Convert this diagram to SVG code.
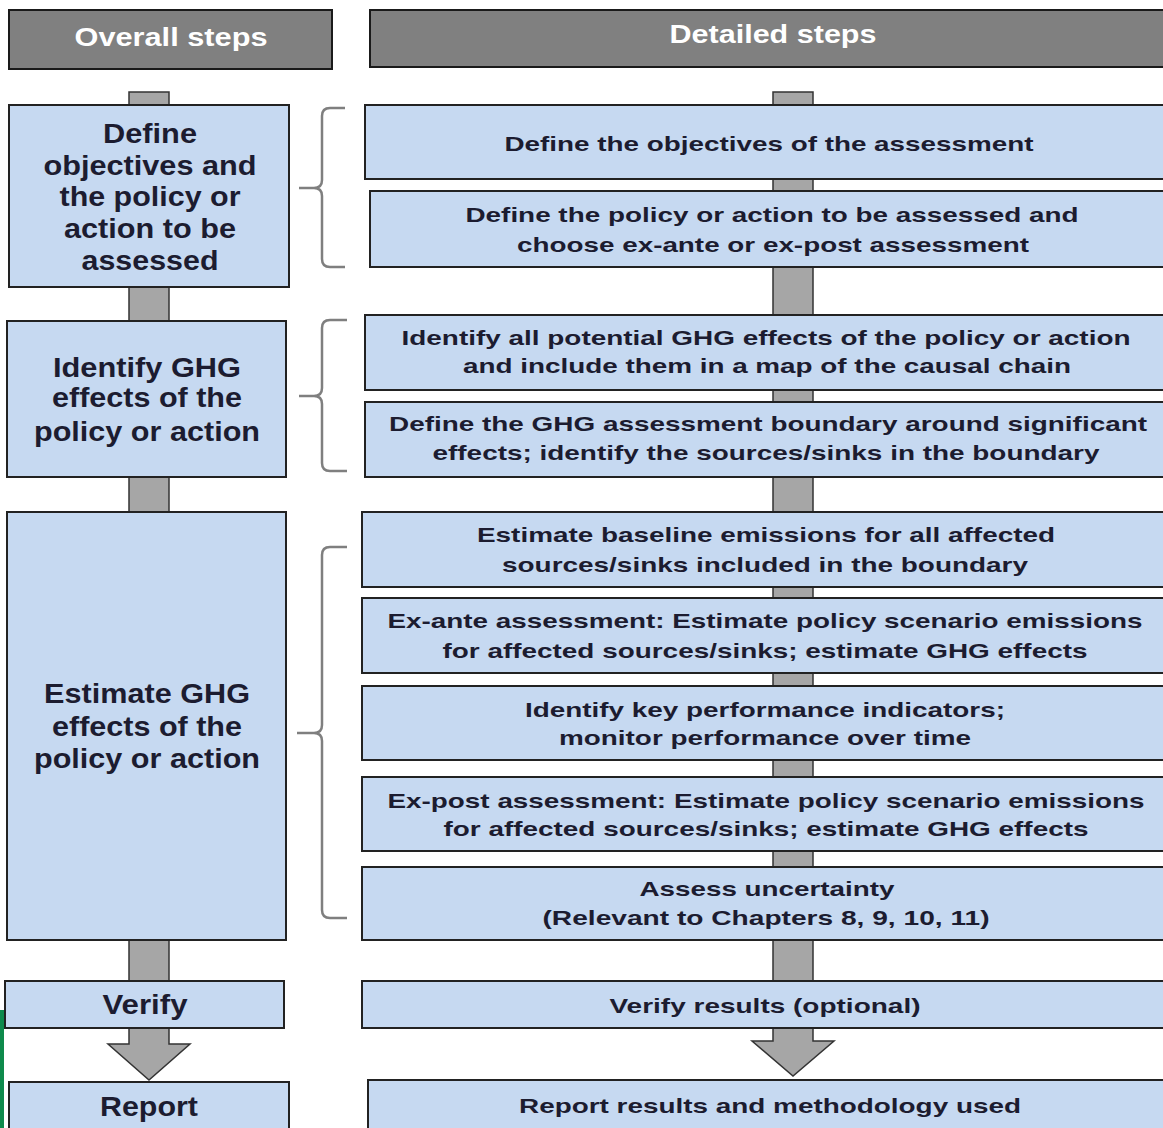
<svg xmlns="http://www.w3.org/2000/svg" width="1163" height="1128" viewBox="0 0 1163 1128">
<style>
.hdr{fill:#808080;stroke:#1a1a1a;stroke-width:2}
.box{fill:#c6d9f1;stroke:#222;stroke-width:2}
.bar{fill:#a6a6a6;stroke:#333;stroke-width:1.5}
.br{fill:none;stroke:#7f7f7f;stroke-width:2.5}
.ht{font-family:"Liberation Sans",Arial,sans-serif;font-weight:bold;font-size:26px;fill:#ffffff;text-anchor:middle}
.lt{font-family:"Liberation Sans",Arial,sans-serif;font-weight:bold;font-size:28px;fill:#1c1c30;text-anchor:middle}
.rt{font-family:"Liberation Sans",Arial,sans-serif;font-weight:bold;font-size:21px;fill:#1c1c30;text-anchor:middle}
</style>
<rect x="0" y="0" width="1163" height="1128" fill="#ffffff"/>
<rect x="0" y="1010" width="4" height="118" fill="#0e8a4c"/>
<g id="connectors">
<rect class="bar" x="129" y="92" width="40" height="890"/>
<rect class="bar" x="773" y="92" width="40" height="890"/>
<polygon class="bar" points="129,1028 169,1028 169,1044 190,1044 149,1080 108,1044 129,1044"/>
<polygon class="bar" points="773,1028 813,1028 813,1041 834,1041 793,1076 752,1041 773,1041"/>
<path class="br" d="M345,108 H330 Q322,108 322,116 V180 Q322,188 314,188 H299 M314,188 Q322,188 322,196 V259 Q322,267 330,267 H345"/>
<path class="br" d="M347,320 H330 Q322,320 322,328 V388 Q322,396 314,396 H299 M314,396 Q322,396 322,404 V463 Q322,471 330,471 H347"/>
<path class="br" d="M347,547 H330 Q322,547 322,555 V725 Q322,733 314,733 H297 M314,733 Q322,733 322,741 V910 Q322,918 330,918 H347"/>
</g>
<g id="hdr-overall"><rect class="hdr" x="9" y="10" width="323" height="59"/><text class="ht" x="171" y="46" textLength="193" lengthAdjust="spacingAndGlyphs">Overall steps</text></g>
<g id="hdr-detailed"><rect class="hdr" x="370" y="10" width="800" height="57"/><text class="ht" x="773" y="43" textLength="207" lengthAdjust="spacingAndGlyphs">Detailed steps</text></g>
<g id="o1"><rect class="box" x="9" y="105" width="280" height="182"/>
<text class="lt" x="150" y="143" textLength="94" lengthAdjust="spacingAndGlyphs">Define</text>
<text class="lt" x="150" y="175" textLength="213" lengthAdjust="spacingAndGlyphs">objectives and</text>
<text class="lt" x="150" y="206" textLength="181" lengthAdjust="spacingAndGlyphs">the policy or</text>
<text class="lt" x="150" y="238" textLength="172" lengthAdjust="spacingAndGlyphs">action to be</text>
<text class="lt" x="150" y="270" textLength="137" lengthAdjust="spacingAndGlyphs">assessed</text></g>
<g id="o2"><rect class="box" x="7" y="321" width="279" height="156"/>
<text class="lt" x="147" y="377" textLength="188" lengthAdjust="spacingAndGlyphs">Identify GHG</text>
<text class="lt" x="147" y="407" textLength="190" lengthAdjust="spacingAndGlyphs">effects of the</text>
<text class="lt" x="147" y="441" textLength="226" lengthAdjust="spacingAndGlyphs">policy or action</text></g>
<g id="o3"><rect class="box" x="7" y="512" width="279" height="428"/>
<text class="lt" x="147" y="703" textLength="206" lengthAdjust="spacingAndGlyphs">Estimate GHG</text>
<text class="lt" x="147" y="736" textLength="190" lengthAdjust="spacingAndGlyphs">effects of the</text>
<text class="lt" x="147" y="768" textLength="226" lengthAdjust="spacingAndGlyphs">policy or action</text></g>
<g id="o4"><rect class="box" x="5" y="981" width="279" height="47"/>
<text class="lt" x="145" y="1014" textLength="85" lengthAdjust="spacingAndGlyphs">Verify</text></g>
<g id="o5"><rect class="box" x="9" y="1082" width="280" height="60"/>
<text class="lt" x="149" y="1116" textLength="98" lengthAdjust="spacingAndGlyphs">Report</text></g>
<g id="d1"><rect class="box" x="365" y="105" width="810" height="74"/>
<text class="rt" x="769" y="151" textLength="529" lengthAdjust="spacingAndGlyphs">Define the objectives of the assessment</text></g>
<g id="d2"><rect class="box" x="370" y="191" width="805" height="76"/>
<text class="rt" x="772" y="222" textLength="613" lengthAdjust="spacingAndGlyphs">Define the policy or action to be assessed and</text>
<text class="rt" x="773" y="252" textLength="512" lengthAdjust="spacingAndGlyphs">choose ex-ante or ex-post assessment</text></g>
<g id="d3"><rect class="box" x="365" y="315" width="810" height="75"/>
<text class="rt" x="766" y="345" textLength="729" lengthAdjust="spacingAndGlyphs">Identify all potential GHG effects of the policy or action</text>
<text class="rt" x="767" y="373" textLength="608" lengthAdjust="spacingAndGlyphs">and include them in a map of the causal chain</text></g>
<g id="d4"><rect class="box" x="365" y="402" width="810" height="75"/>
<text class="rt" x="768" y="431" textLength="758" lengthAdjust="spacingAndGlyphs">Define the GHG assessment boundary around significant</text>
<text class="rt" x="766" y="460" textLength="667" lengthAdjust="spacingAndGlyphs">effects; identify the sources/sinks in the boundary</text></g>
<g id="d5"><rect class="box" x="362" y="512" width="813" height="75"/>
<text class="rt" x="766" y="542" textLength="578" lengthAdjust="spacingAndGlyphs">Estimate baseline emissions for all affected</text>
<text class="rt" x="765" y="572" textLength="526" lengthAdjust="spacingAndGlyphs">sources/sinks included in the boundary</text></g>
<g id="d6"><rect class="box" x="362" y="598" width="813" height="75"/>
<text class="rt" x="765" y="628" textLength="755" lengthAdjust="spacingAndGlyphs">Ex-ante assessment: Estimate policy scenario emissions</text>
<text class="rt" x="765" y="658" textLength="645" lengthAdjust="spacingAndGlyphs">for affected sources/sinks; estimate GHG effects</text></g>
<g id="d7"><rect class="box" x="362" y="686" width="813" height="74"/>
<text class="rt" x="765" y="717" textLength="480" lengthAdjust="spacingAndGlyphs">Identify key performance indicators;</text>
<text class="rt" x="765" y="745" textLength="412" lengthAdjust="spacingAndGlyphs">monitor performance over time</text></g>
<g id="d8"><rect class="box" x="362" y="777" width="813" height="74"/>
<text class="rt" x="766" y="808" textLength="757" lengthAdjust="spacingAndGlyphs">Ex-post assessment: Estimate policy scenario emissions</text>
<text class="rt" x="766" y="836" textLength="645" lengthAdjust="spacingAndGlyphs">for affected sources/sinks; estimate GHG effects</text></g>
<g id="d9"><rect class="box" x="362" y="867" width="813" height="73"/>
<text class="rt" x="767" y="896" textLength="255" lengthAdjust="spacingAndGlyphs">Assess uncertainty</text>
<text class="rt" x="766" y="925" textLength="447" lengthAdjust="spacingAndGlyphs">(Relevant to Chapters 8, 9, 10, 11)</text></g>
<g id="d10"><rect class="box" x="362" y="981" width="813" height="47"/>
<text class="rt" x="765" y="1013" textLength="311" lengthAdjust="spacingAndGlyphs">Verify results (optional)</text></g>
<g id="d11"><rect class="box" x="368" y="1080" width="807" height="60"/>
<text class="rt" x="770" y="1113" textLength="502" lengthAdjust="spacingAndGlyphs">Report results and methodology used</text></g>
</svg>
